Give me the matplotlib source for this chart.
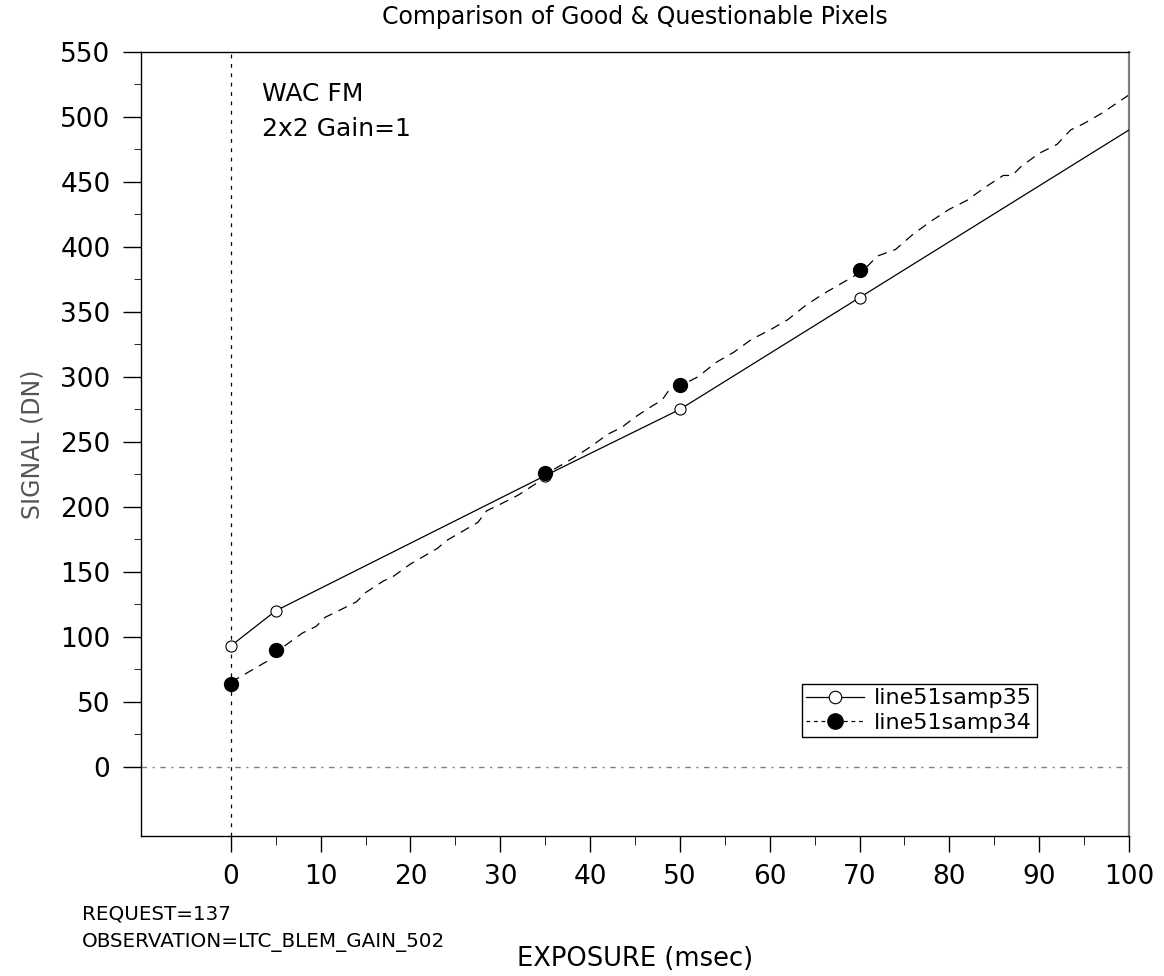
import matplotlib
matplotlib.use("Agg")
import matplotlib.pyplot as plt
from matplotlib.lines import Line2D
import numpy as np

plt.rcParams['font.family'] = ['DejaVu Sans']

# good pixel: measured points plus linear continuation
good_x = [0, 5, 35, 50, 70, 100]
good_y = [93, 120, 224, 275, 361, 490]

# questionable pixel: measured points
bad_pts_x = [0, 5, 35, 50, 70]
bad_pts_y = [64, 90, 226, 294, 382]

# questionable pixel: dense trace
bad_x = [0, 2, 4, 6, 8, 9.5, 10.5, 12, 14, 15, 17, 18, 19, 20, 22, 23, 24, 26,
         27.5, 28.5, 30, 32, 34, 35, 36, 38, 40, 42, 43.5, 45, 47, 48, 48.7, 50,
         52, 54, 56, 58, 60, 62, 64, 66, 68, 70, 71, 72, 74, 76, 78, 80, 82, 84,
         86, 87, 88, 90, 92, 93.5, 95, 97, 100]
bad_y = [65, 73, 81, 93, 103, 108, 115, 120, 127, 134, 143, 146, 151, 156, 164,
         168, 174, 182, 188, 197, 202, 209, 218, 224, 229, 237, 246, 256, 261,
         269, 278, 282, 289, 293, 300, 311, 319, 329, 336, 344, 355, 364, 372,
         380, 386, 393, 398, 410, 420, 429, 436, 446, 455, 455, 462, 472, 479,
         490, 495, 503, 517]

labels = ["line51samp35", "line51samp34"]

fig = plt.figure(figsize=(11.64, 9.76), dpi=100)
ax = fig.add_axes([141/1164, 1 - 836/976, 988/1164, 784/976])

ax.axvline(0, color='black', lw=0.9, linestyle=(0, (3, 4.5)), zorder=1)
ax.axhline(0, color='#808080', lw=1.0, linestyle=(0, (4, 4, 1.5, 4)), zorder=1)

ax.plot(good_x, good_y, color='black', lw=0.9, marker='o', markevery=[0, 1, 2, 3, 4],
        markersize=8, markerfacecolor='white', markeredgecolor='black',
        markeredgewidth=0.8, zorder=3)
ax.plot(bad_x, bad_y, color='black', lw=0.9, linestyle=(0, (7.5, 5.5)), zorder=2)
ax.plot(bad_pts_x, bad_pts_y, linestyle='none', marker='o', markersize=10,
        color='black', zorder=4)

ax.set_xlim(-10, 100)
ax.set_ylim(-53.3, 550)
ax.set_xticks(np.arange(0, 101, 10))
ax.set_xticks(np.arange(5, 100, 10), minor=True)
ax.set_yticks(np.arange(0, 551, 50))
ax.set_yticks(np.arange(25, 526, 50), minor=True)
ax.tick_params(axis='both', which='major', labelsize=19, width=1)
ax.tick_params(axis='y', which='major', length=13, pad=9)
ax.tick_params(axis='y', which='minor', length=5)
ax.tick_params(axis='x', which='major', length=11.5, pad=9)
ax.tick_params(axis='x', which='minor', length=6.5)

for side in ['left', 'bottom', 'top']:
    ax.spines[side].set_color('black')
    ax.spines[side].set_linewidth(1.0)
ax.spines['right'].set_color('#808080')
ax.spines['right'].set_linewidth(1.6)

ax.set_title("Comparison of Good & Questionable Pixels", fontsize=17, pad=20)
ax.set_ylabel("SIGNAL (DN)", fontsize=17, color='#555555')
ax.yaxis.set_label_coords(-0.098, 0.5)
ax.set_xlabel("EXPOSURE (msec)", fontsize=18.5)
ax.xaxis.set_label_coords(0.5, -0.14)

ax.text(0.1225, 0.962, "WAC FM\n2x2 Gain=1", transform=ax.transAxes, fontsize=18,
        va='top', ha='left', linespacing=1.6)

fig.text(82/1164, 1 - 914/976, "REQUEST=137", fontsize=14.3, va='center')
fig.text(82/1164, 1 - 942/976, "OBSERVATION=LTC_BLEM_GAIN_502", fontsize=14.3, va='center')

handles = [
    Line2D([], [], color='black', lw=0.9, marker='o', markersize=9,
           markerfacecolor='white', markeredgecolor='black', markeredgewidth=0.8),
    Line2D([], [], color='black', lw=0.9, linestyle=(0, (3, 3)), marker='o',
           markersize=11, markerfacecolor='black'),
]
leg = ax.legend(handles, labels, loc='upper left', bbox_to_anchor=(0.669, 0.194),
                borderaxespad=0, fontsize=16, handlelength=2.6, handletextpad=0.45,
                borderpad=0.2, labelspacing=0.2, fancybox=False, framealpha=1,
                edgecolor='black')
leg.get_frame().set_linewidth(1.0)

fig.savefig("out.png", dpi=100)
